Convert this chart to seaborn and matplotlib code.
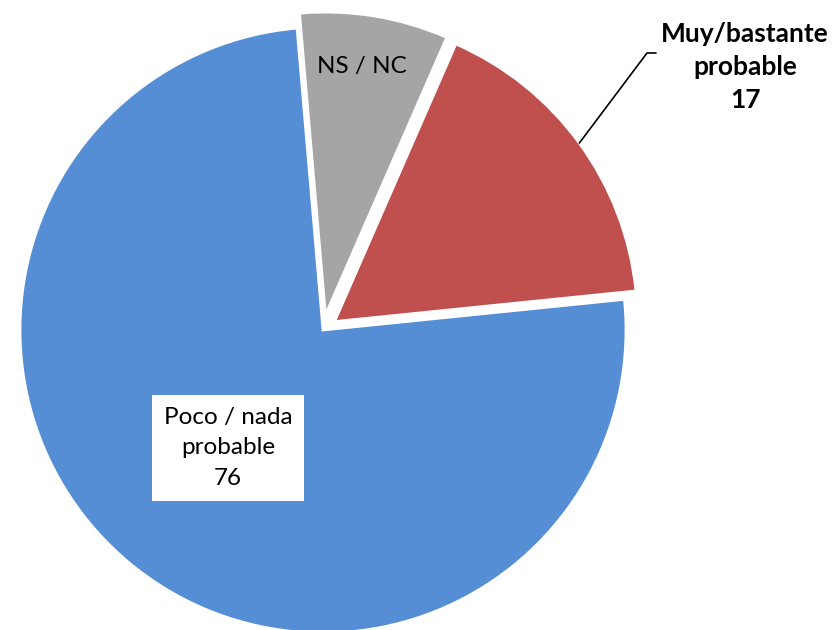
import numpy as np
import matplotlib.pyplot as plt
import seaborn as sns

# data
labels = ["Muy/bastante\nprobable", "Poco / nada\nprobable", "NS / NC"]
values = [17, 76, 8]
colors = ["#C0504D", "#558ED5", "#A5A5A5"]
explode = [0.047, 0.0, 0.05]

sns.set_theme(style="white")
plt.rcParams["font.family"] = ["Lato", "DejaVu Sans"]
plt.rcParams["text.color"] = "black"

# pixel -> data helper (pie centre at 323,330 px, radius 303 px)
CX, CY, R = 323, 330, 303
def px(x, y):
    return ((x - CX) / R, (CY - y) / R)

fig = plt.figure(figsize=(8.32, 6.3), dpi=100)
ax = fig.add_axes([0, 0, 1, 1])
wedges, _ = ax.pie(values, colors=colors, explode=explode, startangle=66.4,
                   counterclock=False, radius=1,
                   wedgeprops=dict(edgecolor="white", linewidth=2))
ax.set_xlim(px(0, 0)[0], px(832, 0)[0])
ax.set_ylim(px(0, 630)[1], px(0, 0)[1])
ax.set_aspect("equal")
ax.axis("off")

fs = 17.5
# Muy/bastante label with leader line from the wedge edge
w = wedges[0]
mid = np.deg2rad((w.theta1 + w.theta2) / 2)
x0 = w.center[0] + w.r * np.cos(mid)
y0 = w.center[1] + w.r * np.sin(mid)
kx, ky = px(647, 53)
ex, ey = px(656, 53)
ax.plot([x0, kx, ex], [y0, ky, ey], color="black", lw=1.2)
tx, ty = px(745, 67)
ax.text(tx, ty, f"{labels[0]}\n{values[0]}", ha="center", va="center",
        fontsize=19, fontweight="bold", linespacing=1.45, color="black")

# Poco / nada label in white box
tx, ty = px(228, 448)
ax.text(tx, ty, f"{labels[1]}\n{values[1]}", ha="center", va="center",
        fontsize=fs, linespacing=1.55, color="black",
        bbox=dict(boxstyle="square,pad=0.5", fc="white", ec="none"))

# NS / NC label inside slice
tx, ty = px(362, 67)
ax.text(tx, ty, labels[2], ha="center", va="center", fontsize=fs, color="black")

fig.savefig("out.png", dpi=100)
